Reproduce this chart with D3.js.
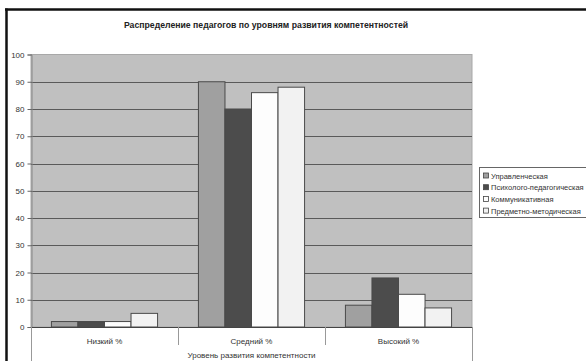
<!DOCTYPE html>
<html>
<head>
<meta charset="utf-8">
<script src="https://cdn.jsdelivr.net/npm/d3@7/dist/d3.min.js"></script>
<style>
  html, body { margin: 0; padding: 0; background: #fff; }
  svg { display: block; font-family: "Liberation Sans", Arial, sans-serif; }
</style>
</head>
<body>
<svg id="chart" width="586" height="361"></svg>
<script>
// Уровни развития компетентностей (категории оси X)
const categories = ["Низкий %", "Средний %", "Высокий %"];
// Виды компетентностей (серии)
const seriesNames = ["Управленческая", "Психолого-педагогическая", "Коммуникативная", "Предметно-методическая"];
// Доля педагогов, % — по сериям, в порядке категорий
const upravl   = [2, 90, 8];
const psych    = [2, 80, 18];
const kommun   = [2, 86, 12];
const predmet  = [5, 88, 7];
const yTicks   = [0, 10, 20, 30, 40, 50, 60, 70, 80, 90, 100];
const chartTitle = "Распределение педагогов по уровням развития компетентностей";
const axisTitle  = "Уровень развития компетентности";

const seriesValues = [upravl, psych, kommun, predmet];
const seriesColors = ["#a0a0a0", "#4c4c4c", "#fdfdfd", "#f2f2f2"];

const svg = d3.select("#chart");

const plot = { left: 31, right: 472, top: 54.5, bottom: 327 };

const x0 = d3.scaleBand().domain(categories).range([plot.left, plot.right]).paddingInner(0).paddingOuter(0);
const x1 = d3.scaleBand().domain(seriesNames).range([0, x0.bandwidth()]).paddingInner(0).paddingOuter(0.77);
const y = d3.scaleLinear().domain([0, 100]).range([plot.bottom, plot.top]);

// Рамка диаграммы
svg.append("line").attr("x1", 5).attr("x2", 586).attr("y1", 9.5).attr("y2", 9.5)
  .attr("stroke", "#111").attr("stroke-width", 2.5);
svg.append("line").attr("x1", 6.5).attr("x2", 6.5).attr("y1", 8.5).attr("y2", 361)
  .attr("stroke", "#111").attr("stroke-width", 2.5);

// Заголовок
svg.append("text").attr("x", 266).attr("y", 28).attr("text-anchor", "middle")
  .attr("font-size", 8.7).attr("font-weight", "bold").attr("fill", "#222").text(chartTitle);

// Область построения
svg.append("rect").attr("x", plot.left).attr("y", plot.top)
  .attr("width", plot.right - plot.left).attr("height", plot.bottom - plot.top)
  .attr("fill", "#c0c0c0").attr("stroke", "#a8a8a8").attr("stroke-width", 1);

// Линии сетки
svg.append("g").selectAll("line").data(yTicks.filter(t => t > 0 && t < 100)).join("line")
  .attr("x1", plot.left).attr("x2", plot.right)
  .attr("y1", d => Math.round(y(d)) + 0.5).attr("y2", d => Math.round(y(d)) + 0.5)
  .attr("stroke", "#5a5a5a").attr("stroke-width", 1);

// Столбцы
const groups = svg.append("g").selectAll("g").data(categories).join("g")
  .attr("transform", c => `translate(${x0(c)},0)`);
groups.selectAll("rect")
  .data((c, ci) => seriesNames.map((s, si) => ({ s, si, v: seriesValues[si][ci] })))
  .join("rect")
  .attr("x", d => x1(d.s))
  .attr("width", x1.bandwidth())
  .attr("y", d => y(d.v))
  .attr("height", d => y(0) - y(d.v))
  .attr("fill", d => seriesColors[d.si])
  .attr("stroke", "#4a4a4a").attr("stroke-width", 1);

// Ось Y
const yAxis = d3.axisLeft(y).tickValues(yTicks).tickSize(4).tickPadding(3);
const gy = svg.append("g").attr("transform", `translate(${plot.left + 0.5},0)`).call(yAxis);
gy.select(".domain").attr("stroke", "#888");
gy.selectAll(".tick line").attr("stroke", "#666");
gy.selectAll(".tick text").attr("font-size", 8).attr("fill", "#333")
  .attr("font-family", "Liberation Sans, Arial, sans-serif");

// Ось X (нулевая линия и разделители категорий)
svg.append("line").attr("x1", plot.left).attr("x2", plot.right)
  .attr("y1", plot.bottom + 0.5).attr("y2", plot.bottom + 0.5).attr("stroke", "#444");
const bounds = [plot.left, ...categories.slice(1).map(c => x0(c)), plot.right];
svg.append("g").selectAll("line").data(bounds).join("line")
  .attr("x1", d => Math.round(d) + 0.5).attr("x2", d => Math.round(d) + 0.5)
  .attr("y1", plot.bottom)
  .attr("y2", (d, i) => (i === 0 || i === bounds.length - 1) ? 361 : 345)
  .attr("stroke", "#999");

svg.append("g").selectAll("text").data(categories).join("text")
  .attr("x", c => x0(c) + x0.bandwidth() / 2).attr("y", 344)
  .attr("text-anchor", "middle").attr("font-size", 8).attr("fill", "#333").text(c => c);

svg.append("text").attr("x", (plot.left + plot.right) / 2).attr("y", 358)
  .attr("text-anchor", "middle").attr("font-size", 8).attr("fill", "#333").text(axisTitle);

// Легенда
const lg = svg.append("g").attr("transform", "translate(479,167)");
lg.append("rect").attr("x", 0.5).attr("y", 0.5).attr("width", 120).attr("height", 50)
  .attr("fill", "#fff").attr("stroke", "#666");
const items = lg.selectAll("g.item").data(seriesNames).join("g").attr("class", "item")
  .attr("transform", (d, i) => `translate(4,${5.5 + i * 11.7})`);
items.append("rect").attr("x", 0.5).attr("y", 0.5).attr("width", 5).attr("height", 5)
  .attr("fill", (d, i) => seriesColors[i]).attr("stroke", "#444").attr("stroke-width", 0.8);
items.append("text").attr("x", 8).attr("y", 6).attr("font-size", 7.5).attr("fill", "#333").text(d => d);
</script>
</body>
</html>
